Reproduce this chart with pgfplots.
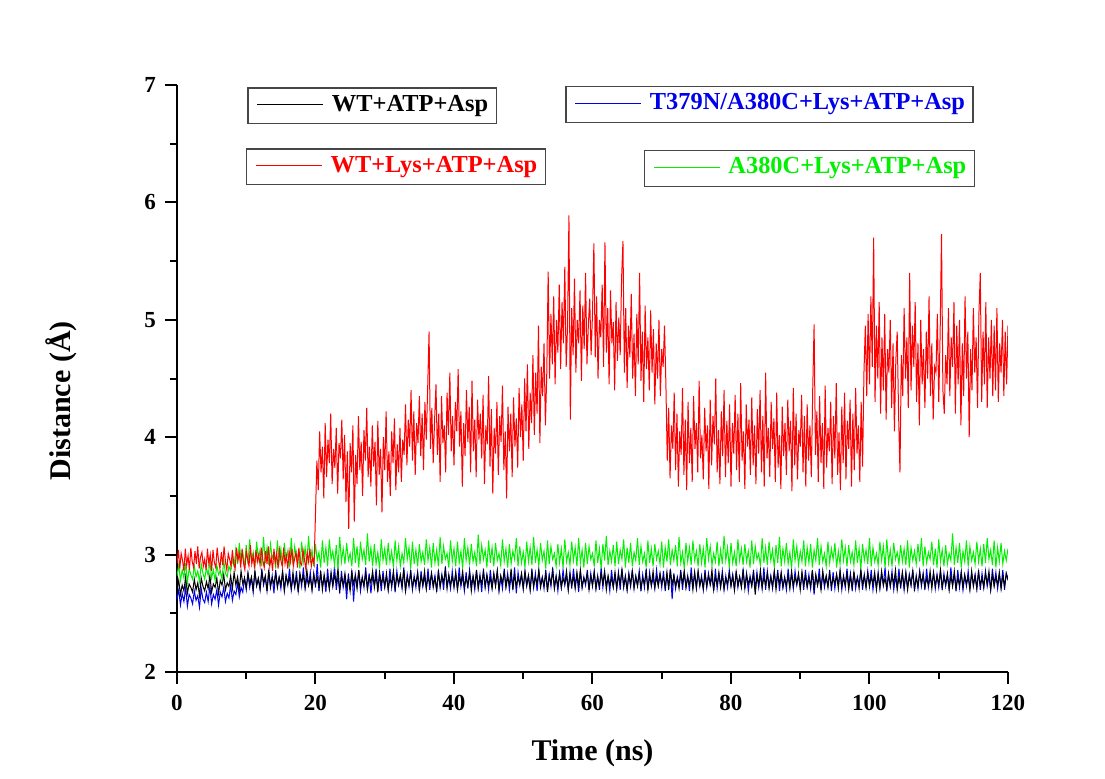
\documentclass[border=0pt]{standalone}
\usepackage{fontspec}
\setmainfont{Liberation Serif}
\usepackage{pgfplots}
\usepackage{pgfplotstable}
\pgfplotsset{compat=1.18}
\definecolor{cred}{RGB}{255,0,0}
\definecolor{cblue}{RGB}{0,0,235}
\definecolor{cgreen}{RGB}{0,240,0}
\definecolor{boxgray}{RGB}{70,70,70}

% WT+Lys+ATP+Asp, one value every 0.2 ns (0 ... 120 ns)
\pgfplotstableread[row sep=\\]{
y\\
2.93\\ 3.04\\ 2.88\\ 3.01\\ 2.95\\ 2.86\\ 3.05\\ 2.91\\ 2.99\\ 2.87\\ 3.06\\ 2.94\\ 2.89\\ 3.03\\ 2.92\\ 3.07\\ 2.88\\ 2.98\\ 3.02\\ 2.90\\
2.96\\ 2.87\\ 3.05\\ 2.92\\ 3.00\\ 2.86\\ 3.04\\ 2.93\\ 2.89\\ 3.06\\ 2.95\\ 2.88\\ 3.02\\ 2.91\\ 3.07\\ 2.94\\ 2.87\\ 3.01\\ 2.96\\ 2.90\\
3.04\\ 2.92\\ 2.88\\ 3.06\\ 2.95\\ 3.01\\ 2.89\\ 3.05\\ 2.93\\ 2.87\\ 3.03\\ 2.96\\ 2.90\\ 3.08\\ 2.92\\ 2.99\\ 2.88\\ 3.04\\ 2.94\\ 3.00\\
2.91\\ 3.06\\ 2.95\\ 2.89\\ 3.03\\ 2.92\\ 3.07\\ 2.90\\ 2.98\\ 2.86\\ 3.05\\ 2.93\\ 3.01\\ 2.88\\ 3.04\\ 2.95\\ 2.90\\ 3.06\\ 2.92\\ 2.99\\
2.88\\ 3.03\\ 2.94\\ 3.05\\ 2.90\\ 2.97\\ 3.02\\ 2.89\\ 3.06\\ 2.93\\ 2.91\\ 3.04\\ 2.96\\ 2.88\\ 3.02\\ 2.94\\ 3.05\\ 2.90\\ 2.97\\ 2.92\\
3.35\\ 3.80\\ 3.55\\ 4.05\\ 3.70\\ 3.92\\ 3.48\\ 4.12\\ 3.66\\ 3.98\\ 3.78\\ 4.20\\ 3.60\\ 3.90\\ 3.74\\ 4.08\\ 3.52\\ 3.95\\ 3.82\\ 4.15\\
3.64\\ 4.02\\ 3.45\\ 3.88\\ 3.22\\ 3.95\\ 3.70\\ 4.10\\ 3.28\\ 3.85\\ 3.60\\ 4.18\\ 3.72\\ 3.96\\ 3.50\\ 4.06\\ 3.80\\ 4.25\\ 3.66\\ 3.92\\
3.58\\ 4.10\\ 3.75\\ 3.96\\ 3.42\\ 4.14\\ 3.68\\ 3.90\\ 3.36\\ 4.00\\ 3.72\\ 4.22\\ 3.62\\ 3.88\\ 3.50\\ 4.05\\ 3.78\\ 4.16\\ 3.55\\ 3.94\\
3.70\\ 4.08\\ 3.62\\ 3.98\\ 3.85\\ 4.28\\ 3.76\\ 4.15\\ 3.92\\ 4.40\\ 3.80\\ 4.22\\ 3.68\\ 4.12\\ 3.95\\ 4.35\\ 3.84\\ 4.20\\ 3.72\\ 4.30\\
3.98\\ 4.42\\ 4.90\\ 3.90\\ 4.25\\ 3.78\\ 4.15\\ 4.45\\ 3.85\\ 4.20\\ 3.62\\ 4.35\\ 3.95\\ 4.10\\ 3.70\\ 4.38\\ 4.02\\ 4.55\\ 3.88\\ 4.18\\
3.76\\ 4.30\\ 4.05\\ 4.58\\ 3.92\\ 4.22\\ 3.58\\ 4.12\\ 3.84\\ 4.40\\ 3.96\\ 4.26\\ 3.70\\ 4.48\\ 3.88\\ 4.15\\ 3.66\\ 4.32\\ 3.98\\ 4.20\\
3.82\\ 4.36\\ 3.60\\ 4.10\\ 3.94\\ 4.52\\ 3.75\\ 4.24\\ 3.52\\ 4.08\\ 3.86\\ 4.30\\ 3.68\\ 4.18\\ 3.96\\ 4.44\\ 3.72\\ 4.05\\ 3.48\\ 4.26\\
3.88\\ 4.20\\ 3.66\\ 4.34\\ 3.92\\ 4.16\\ 3.74\\ 4.42\\ 4.00\\ 4.28\\ 3.80\\ 4.50\\ 4.05\\ 4.62\\ 3.90\\ 4.38\\ 4.12\\ 4.70\\ 4.02\\ 4.55\\
4.20\\ 4.95\\ 3.95\\ 4.60\\ 4.35\\ 4.80\\ 4.10\\ 4.55\\ 5.41\\ 4.50\\ 5.05\\ 4.62\\ 5.20\\ 4.45\\ 5.00\\ 4.72\\ 5.30\\ 4.58\\ 5.15\\ 4.80\\
5.45\\ 4.60\\ 4.95\\ 5.89\\ 4.15\\ 5.10\\ 4.70\\ 5.35\\ 4.55\\ 5.00\\ 4.80\\ 5.25\\ 4.48\\ 5.12\\ 4.75\\ 5.40\\ 4.62\\ 4.95\\ 5.18\\ 4.70\\
5.05\\ 5.65\\ 4.68\\ 5.20\\ 4.50\\ 5.00\\ 4.85\\ 5.30\\ 4.60\\ 5.66\\ 4.72\\ 5.10\\ 4.45\\ 5.25\\ 4.80\\ 4.98\\ 4.40\\ 5.15\\ 4.65\\ 5.02\\
4.70\\ 5.35\\ 5.67\\ 4.55\\ 5.10\\ 4.42\\ 4.95\\ 4.68\\ 5.22\\ 4.50\\ 4.88\\ 4.35\\ 5.05\\ 4.62\\ 5.40\\ 4.48\\ 4.90\\ 4.30\\ 5.12\\ 4.58\\
4.85\\ 4.40\\ 5.08\\ 4.55\\ 4.92\\ 4.28\\ 4.80\\ 4.50\\ 5.00\\ 4.35\\ 4.75\\ 4.60\\ 4.95\\ 4.45\\ 3.80\\ 4.25\\ 3.65\\ 4.10\\ 3.90\\ 4.38\\
3.72\\ 4.20\\ 3.58\\ 4.05\\ 3.85\\ 4.42\\ 3.68\\ 4.15\\ 3.55\\ 4.30\\ 3.78\\ 4.08\\ 3.62\\ 4.35\\ 3.90\\ 4.12\\ 3.70\\ 4.48\\ 3.82\\ 4.02\\
3.64\\ 4.25\\ 3.88\\ 4.10\\ 3.56\\ 4.32\\ 3.76\\ 4.18\\ 3.94\\ 4.50\\ 3.70\\ 4.06\\ 3.60\\ 4.22\\ 3.84\\ 4.40\\ 3.66\\ 4.14\\ 3.78\\ 4.28\\
3.58\\ 4.12\\ 3.86\\ 4.36\\ 3.72\\ 4.20\\ 3.62\\ 4.46\\ 3.80\\ 4.05\\ 3.56\\ 4.28\\ 3.92\\ 4.15\\ 3.68\\ 4.34\\ 3.76\\ 4.10\\ 3.60\\ 4.24\\
3.86\\ 4.40\\ 3.70\\ 4.18\\ 3.58\\ 4.55\\ 3.82\\ 4.08\\ 3.66\\ 4.30\\ 3.90\\ 4.16\\ 3.62\\ 4.38\\ 3.74\\ 4.02\\ 3.56\\ 4.26\\ 3.84\\ 4.12\\
3.68\\ 4.32\\ 3.88\\ 4.14\\ 3.54\\ 4.42\\ 3.76\\ 4.20\\ 3.64\\ 4.06\\ 3.92\\ 4.36\\ 3.70\\ 4.18\\ 3.58\\ 4.28\\ 3.80\\ 4.10\\ 3.66\\ 4.40\\
4.96\\ 3.85\\ 4.22\\ 3.62\\ 4.35\\ 3.78\\ 4.12\\ 3.56\\ 4.44\\ 3.74\\ 4.08\\ 3.88\\ 4.30\\ 3.60\\ 4.18\\ 3.82\\ 4.46\\ 3.68\\ 4.04\\ 3.55\\
4.26\\ 3.78\\ 4.38\\ 3.64\\ 4.14\\ 3.90\\ 4.32\\ 3.58\\ 4.20\\ 3.72\\ 4.42\\ 3.86\\ 4.10\\ 3.62\\ 4.30\\ 3.75\\ 4.55\\ 4.95\\ 4.35\\ 5.05\\
4.45\\ 5.20\\ 4.60\\ 5.70\\ 4.30\\ 4.95\\ 4.50\\ 5.15\\ 4.20\\ 4.85\\ 4.40\\ 5.05\\ 4.15\\ 4.75\\ 4.55\\ 5.00\\ 4.25\\ 4.80\\ 4.05\\ 4.65\\
4.90\\ 4.20\\ 3.70\\ 4.70\\ 4.35\\ 5.10\\ 4.50\\ 4.85\\ 4.25\\ 5.40\\ 4.40\\ 4.95\\ 4.60\\ 5.15\\ 4.30\\ 4.80\\ 4.10\\ 5.00\\ 4.45\\ 4.75\\
4.25\\ 4.90\\ 4.50\\ 5.20\\ 4.35\\ 4.80\\ 4.15\\ 4.60\\ 4.55\\ 5.05\\ 4.30\\ 4.88\\ 5.73\\ 4.40\\ 4.20\\ 4.70\\ 4.45\\ 5.10\\ 4.35\\ 4.85\\
4.60\\ 5.15\\ 4.20\\ 4.95\\ 4.45\\ 5.00\\ 4.10\\ 4.80\\ 4.35\\ 5.20\\ 4.50\\ 4.90\\ 4.00\\ 4.75\\ 4.40\\ 5.10\\ 4.55\\ 4.85\\ 4.25\\ 5.05\\
5.40\\ 4.30\\ 4.90\\ 4.45\\ 5.15\\ 4.25\\ 4.85\\ 4.50\\ 5.00\\ 4.35\\ 4.95\\ 4.40\\ 5.10\\ 4.30\\ 4.80\\ 4.55\\ 5.00\\ 4.35\\ 4.90\\ 4.45\\
4.95\\
}\tabred

% A380C+Lys+ATP+Asp, one value every 0.25 ns
\pgfplotstableread[row sep=\\]{
y\\
2.82\\ 2.91\\ 2.78\\ 2.87\\ 2.80\\ 2.93\\ 2.76\\ 2.88\\ 2.83\\ 2.79\\ 2.90\\ 2.81\\ 2.86\\ 2.77\\ 2.92\\ 2.84\\ 2.79\\ 2.89\\ 2.82\\ 2.94\\
2.80\\ 2.87\\ 2.78\\ 2.91\\ 2.83\\ 2.86\\ 2.79\\ 2.95\\ 2.84\\ 2.81\\ 2.90\\ 2.86\\ 2.96\\ 2.90\\ 3.05\\ 2.92\\ 3.10\\ 2.94\\ 3.02\\ 2.89\\
3.08\\ 2.92\\ 3.13\\ 2.95\\ 3.02\\ 2.89\\ 3.11\\ 2.96\\ 3.04\\ 2.90\\ 3.15\\ 2.93\\ 3.06\\ 2.91\\ 3.09\\ 2.97\\ 3.01\\ 2.88\\ 3.12\\ 2.94\\
3.05\\ 2.90\\ 3.10\\ 2.95\\ 3.03\\ 2.89\\ 3.14\\ 2.92\\ 3.07\\ 2.96\\ 3.01\\ 2.88\\ 3.11\\ 2.94\\ 3.06\\ 2.91\\ 3.16\\ 2.93\\ 3.04\\ 2.90\\
3.09\\ 2.95\\ 3.02\\ 2.89\\ 3.12\\ 2.93\\ 3.06\\ 2.90\\ 3.13\\ 2.96\\ 3.03\\ 2.91\\ 3.08\\ 2.88\\ 3.15\\ 2.94\\ 3.05\\ 2.92\\ 3.10\\ 2.95\\
3.01\\ 2.90\\ 3.14\\ 2.93\\ 3.07\\ 2.89\\ 3.11\\ 2.96\\ 3.04\\ 2.91\\ 3.18\\ 2.94\\ 3.06\\ 2.90\\ 3.09\\ 2.92\\ 3.02\\ 2.88\\ 3.13\\ 2.95\\
3.05\\ 2.91\\ 3.10\\ 2.94\\ 3.03\\ 2.89\\ 3.12\\ 2.95\\ 3.07\\ 2.90\\ 3.01\\ 2.93\\ 3.14\\ 2.96\\ 3.06\\ 2.88\\ 3.11\\ 2.92\\ 3.04\\ 2.90\\
3.09\\ 2.94\\ 3.02\\ 2.91\\ 3.13\\ 2.95\\ 3.06\\ 2.89\\ 3.10\\ 2.93\\ 3.04\\ 2.90\\ 3.15\\ 2.92\\ 3.07\\ 2.96\\ 3.01\\ 2.89\\ 3.12\\ 2.94\\
3.05\\ 2.90\\ 3.11\\ 2.93\\ 3.03\\ 2.88\\ 3.14\\ 2.95\\ 3.06\\ 2.91\\ 3.09\\ 2.94\\ 3.02\\ 2.90\\ 3.17\\ 2.92\\ 3.08\\ 2.96\\ 3.04\\ 2.89\\
3.12\\ 2.93\\ 3.06\\ 2.90\\ 3.10\\ 2.95\\ 3.01\\ 2.91\\ 3.13\\ 2.94\\ 3.05\\ 2.89\\ 3.09\\ 2.92\\ 3.03\\ 2.96\\ 3.14\\ 2.90\\ 3.07\\ 2.93\\
3.02\\ 2.89\\ 3.11\\ 2.94\\ 3.06\\ 2.91\\ 3.15\\ 2.93\\ 3.04\\ 2.90\\ 3.10\\ 2.95\\ 3.03\\ 2.88\\ 3.12\\ 2.92\\ 3.07\\ 2.96\\ 3.01\\ 2.90\\
3.09\\ 2.93\\ 3.05\\ 2.89\\ 3.13\\ 2.94\\ 3.02\\ 2.91\\ 3.11\\ 2.95\\ 3.06\\ 2.90\\ 3.14\\ 2.93\\ 3.04\\ 2.89\\ 3.10\\ 2.92\\ 3.07\\ 2.96\\
3.01\\ 2.90\\ 3.12\\ 2.93\\ 3.05\\ 2.88\\ 3.09\\ 2.95\\ 3.16\\ 2.91\\ 3.03\\ 2.94\\ 3.08\\ 2.90\\ 3.11\\ 2.92\\ 3.04\\ 2.96\\ 3.13\\ 2.89\\
3.06\\ 2.93\\ 3.10\\ 2.90\\ 3.02\\ 2.95\\ 3.14\\ 2.91\\ 3.07\\ 2.94\\ 3.01\\ 2.89\\ 3.12\\ 2.93\\ 3.05\\ 2.90\\ 3.09\\ 2.96\\ 3.03\\ 2.92\\
3.11\\ 2.89\\ 3.06\\ 2.94\\ 3.13\\ 2.91\\ 3.04\\ 2.95\\ 3.08\\ 2.90\\ 3.15\\ 2.93\\ 3.02\\ 2.88\\ 3.10\\ 2.94\\ 3.06\\ 2.91\\ 3.12\\ 2.95\\
3.03\\ 2.90\\ 3.09\\ 2.93\\ 3.05\\ 2.89\\ 3.14\\ 2.96\\ 3.07\\ 2.91\\ 3.01\\ 2.94\\ 3.11\\ 2.90\\ 3.04\\ 2.92\\ 3.16\\ 2.95\\ 3.06\\ 2.89\\
3.10\\ 2.93\\ 3.02\\ 2.90\\ 3.13\\ 2.95\\ 3.05\\ 2.91\\ 3.09\\ 2.94\\ 3.03\\ 2.89\\ 3.12\\ 2.92\\ 3.07\\ 2.96\\ 3.01\\ 2.90\\ 3.14\\ 2.93\\
3.06\\ 2.91\\ 3.11\\ 2.95\\ 3.04\\ 2.89\\ 3.08\\ 2.93\\ 3.15\\ 2.90\\ 3.05\\ 2.94\\ 3.10\\ 2.92\\ 3.02\\ 2.88\\ 3.13\\ 2.95\\ 3.07\\ 2.91\\
3.03\\ 2.94\\ 3.12\\ 2.90\\ 3.06\\ 2.93\\ 3.09\\ 2.89\\ 3.04\\ 2.95\\ 3.14\\ 2.91\\ 3.07\\ 2.94\\ 3.01\\ 2.90\\ 3.11\\ 2.93\\ 3.05\\ 2.96\\
3.10\\ 2.89\\ 3.03\\ 2.92\\ 3.13\\ 2.95\\ 3.06\\ 2.90\\ 3.08\\ 2.94\\ 3.02\\ 2.91\\ 3.12\\ 2.93\\ 3.05\\ 2.88\\ 3.09\\ 2.95\\ 3.04\\ 2.92\\
3.14\\ 2.90\\ 3.06\\ 2.94\\ 3.01\\ 2.91\\ 3.11\\ 2.95\\ 3.07\\ 2.89\\ 3.13\\ 2.93\\ 3.04\\ 2.90\\ 3.10\\ 2.96\\ 3.02\\ 2.92\\ 3.08\\ 2.94\\
3.05\\ 2.91\\ 3.12\\ 2.89\\ 3.06\\ 2.95\\ 3.03\\ 2.92\\ 3.09\\ 2.94\\ 3.14\\ 2.90\\ 3.07\\ 2.93\\ 3.02\\ 2.96\\ 3.11\\ 2.91\\ 3.05\\ 2.89\\
3.13\\ 2.94\\ 3.04\\ 2.90\\ 3.08\\ 2.92\\ 3.01\\ 2.95\\ 3.18\\ 2.91\\ 3.06\\ 2.93\\ 3.10\\ 2.89\\ 3.03\\ 2.94\\ 3.12\\ 2.90\\ 3.07\\ 2.95\\
3.02\\ 2.92\\ 3.11\\ 2.94\\ 3.05\\ 2.90\\ 3.09\\ 2.93\\ 3.14\\ 2.96\\ 3.04\\ 2.91\\ 3.12\\ 2.89\\ 3.06\\ 2.94\\ 3.10\\ 2.92\\ 3.03\\ 2.95\\
3.05\\
}\tabgreen

% WT+ATP+Asp, one value every 0.25 ns
\pgfplotstableread[row sep=\\]{
y\\
2.70\\ 2.78\\ 2.66\\ 2.74\\ 2.69\\ 2.81\\ 2.67\\ 2.75\\ 2.72\\ 2.68\\ 2.79\\ 2.70\\ 2.76\\ 2.65\\ 2.80\\ 2.73\\ 2.69\\ 2.77\\ 2.71\\ 2.82\\
2.68\\ 2.75\\ 2.72\\ 2.80\\ 2.67\\ 2.78\\ 2.74\\ 2.83\\ 2.70\\ 2.76\\ 2.73\\ 2.82\\ 2.71\\ 2.85\\ 2.74\\ 2.81\\ 2.70\\ 2.86\\ 2.75\\ 2.80\\
2.72\\ 2.84\\ 2.75\\ 2.81\\ 2.70\\ 2.86\\ 2.74\\ 2.80\\ 2.71\\ 2.85\\ 2.76\\ 2.82\\ 2.69\\ 2.87\\ 2.73\\ 2.80\\ 2.75\\ 2.84\\ 2.72\\ 2.81\\
2.74\\ 2.86\\ 2.70\\ 2.82\\ 2.75\\ 2.80\\ 2.71\\ 2.85\\ 2.73\\ 2.81\\ 2.69\\ 2.84\\ 2.76\\ 2.82\\ 2.72\\ 2.87\\ 2.74\\ 2.80\\ 2.70\\ 2.83\\
2.75\\ 2.81\\ 2.72\\ 2.86\\ 2.70\\ 2.83\\ 2.74\\ 2.80\\ 2.71\\ 2.85\\ 2.73\\ 2.82\\ 2.76\\ 2.88\\ 2.70\\ 2.81\\ 2.74\\ 2.84\\ 2.72\\ 2.80\\
2.69\\ 2.85\\ 2.75\\ 2.82\\ 2.71\\ 2.87\\ 2.73\\ 2.80\\ 2.74\\ 2.84\\ 2.70\\ 2.81\\ 2.76\\ 2.86\\ 2.72\\ 2.83\\ 2.68\\ 2.85\\ 2.75\\ 2.81\\
2.72\\ 2.84\\ 2.70\\ 2.80\\ 2.74\\ 2.86\\ 2.71\\ 2.82\\ 2.75\\ 2.83\\ 2.73\\ 2.87\\ 2.69\\ 2.81\\ 2.74\\ 2.85\\ 2.72\\ 2.80\\ 2.76\\ 2.84\\
2.70\\ 2.82\\ 2.74\\ 2.86\\ 2.71\\ 2.81\\ 2.75\\ 2.84\\ 2.72\\ 2.80\\ 2.70\\ 2.85\\ 2.73\\ 2.82\\ 2.76\\ 2.87\\ 2.71\\ 2.83\\ 2.74\\ 2.81\\
2.73\\ 2.85\\ 2.70\\ 2.81\\ 2.75\\ 2.86\\ 2.72\\ 2.80\\ 2.74\\ 2.84\\ 2.69\\ 2.82\\ 2.73\\ 2.87\\ 2.71\\ 2.81\\ 2.75\\ 2.85\\ 2.72\\ 2.83\\
2.74\\ 2.80\\ 2.71\\ 2.84\\ 2.73\\ 2.86\\ 2.70\\ 2.82\\ 2.76\\ 2.85\\ 2.72\\ 2.81\\ 2.74\\ 2.88\\ 2.70\\ 2.83\\ 2.73\\ 2.80\\ 2.75\\ 2.84\\
2.71\\ 2.86\\ 2.74\\ 2.82\\ 2.70\\ 2.85\\ 2.73\\ 2.81\\ 2.75\\ 2.87\\ 2.72\\ 2.80\\ 2.74\\ 2.84\\ 2.68\\ 2.82\\ 2.75\\ 2.86\\ 2.71\\ 2.81\\
2.73\\ 2.84\\ 2.72\\ 2.80\\ 2.75\\ 2.86\\ 2.70\\ 2.83\\ 2.74\\ 2.81\\ 2.71\\ 2.85\\ 2.73\\ 2.87\\ 2.72\\ 2.80\\ 2.76\\ 2.84\\ 2.70\\ 2.82\\
2.74\\ 2.85\\ 2.71\\ 2.81\\ 2.73\\ 2.84\\ 2.75\\ 2.86\\ 2.70\\ 2.82\\ 2.74\\ 2.80\\ 2.72\\ 2.85\\ 2.71\\ 2.83\\ 2.75\\ 2.87\\ 2.73\\ 2.81\\
2.70\\ 2.83\\ 2.74\\ 2.86\\ 2.72\\ 2.81\\ 2.73\\ 2.84\\ 2.71\\ 2.80\\ 2.75\\ 2.85\\ 2.70\\ 2.82\\ 2.74\\ 2.86\\ 2.72\\ 2.81\\ 2.73\\ 2.84\\
2.75\\ 2.81\\ 2.72\\ 2.85\\ 2.70\\ 2.87\\ 2.74\\ 2.82\\ 2.73\\ 2.80\\ 2.71\\ 2.84\\ 2.75\\ 2.86\\ 2.72\\ 2.81\\ 2.74\\ 2.83\\ 2.70\\ 2.85\\
2.72\\ 2.86\\ 2.74\\ 2.80\\ 2.71\\ 2.84\\ 2.73\\ 2.82\\ 2.75\\ 2.87\\ 2.70\\ 2.81\\ 2.74\\ 2.85\\ 2.72\\ 2.83\\ 2.71\\ 2.80\\ 2.75\\ 2.84\\
2.73\\ 2.82\\ 2.70\\ 2.85\\ 2.74\\ 2.81\\ 2.72\\ 2.86\\ 2.71\\ 2.83\\ 2.75\\ 2.80\\ 2.73\\ 2.84\\ 2.66\\ 2.82\\ 2.74\\ 2.87\\ 2.72\\ 2.81\\
2.74\\ 2.84\\ 2.71\\ 2.81\\ 2.73\\ 2.86\\ 2.70\\ 2.83\\ 2.75\\ 2.85\\ 2.72\\ 2.80\\ 2.74\\ 2.82\\ 2.71\\ 2.86\\ 2.73\\ 2.81\\ 2.75\\ 2.84\\
2.70\\ 2.85\\ 2.74\\ 2.82\\ 2.72\\ 2.80\\ 2.73\\ 2.87\\ 2.71\\ 2.83\\ 2.74\\ 2.81\\ 2.70\\ 2.86\\ 2.75\\ 2.82\\ 2.72\\ 2.84\\ 2.73\\ 2.80\\
2.75\\ 2.83\\ 2.71\\ 2.86\\ 2.73\\ 2.81\\ 2.74\\ 2.84\\ 2.70\\ 2.82\\ 2.72\\ 2.85\\ 2.75\\ 2.80\\ 2.71\\ 2.87\\ 2.74\\ 2.82\\ 2.72\\ 2.84\\
2.73\\ 2.81\\ 2.75\\ 2.85\\ 2.70\\ 2.83\\ 2.72\\ 2.86\\ 2.74\\ 2.80\\ 2.71\\ 2.84\\ 2.73\\ 2.82\\ 2.75\\ 2.87\\ 2.70\\ 2.81\\ 2.74\\ 2.85\\
2.72\\ 2.84\\ 2.70\\ 2.82\\ 2.74\\ 2.86\\ 2.71\\ 2.81\\ 2.73\\ 2.85\\ 2.75\\ 2.83\\ 2.72\\ 2.80\\ 2.74\\ 2.86\\ 2.71\\ 2.84\\ 2.73\\ 2.82\\
2.74\\ 2.87\\ 2.72\\ 2.81\\ 2.75\\ 2.84\\ 2.70\\ 2.82\\ 2.73\\ 2.86\\ 2.71\\ 2.80\\ 2.74\\ 2.85\\ 2.72\\ 2.83\\ 2.75\\ 2.81\\ 2.70\\ 2.86\\
2.73\\ 2.82\\ 2.71\\ 2.85\\ 2.74\\ 2.80\\ 2.72\\ 2.84\\ 2.75\\ 2.86\\ 2.70\\ 2.83\\ 2.73\\ 2.81\\ 2.74\\ 2.85\\ 2.71\\ 2.82\\ 2.73\\ 2.84\\
2.78\\
}\tabblack

% T379N/A380C+Lys+ATP+Asp, one value every 0.25 ns
\pgfplotstableread[row sep=\\]{
y\\
2.62\\ 2.70\\ 2.57\\ 2.67\\ 2.60\\ 2.72\\ 2.56\\ 2.66\\ 2.63\\ 2.58\\ 2.69\\ 2.61\\ 2.65\\ 2.55\\ 2.71\\ 2.62\\ 2.59\\ 2.68\\ 2.60\\ 2.73\\
2.58\\ 2.66\\ 2.62\\ 2.70\\ 2.57\\ 2.68\\ 2.64\\ 2.72\\ 2.60\\ 2.67\\ 2.63\\ 2.74\\ 2.61\\ 2.69\\ 2.66\\ 2.76\\ 2.64\\ 2.72\\ 2.68\\ 2.80\\
2.70\\ 2.84\\ 2.72\\ 2.80\\ 2.68\\ 2.86\\ 2.73\\ 2.79\\ 2.70\\ 2.88\\ 2.74\\ 2.81\\ 2.69\\ 2.85\\ 2.72\\ 2.82\\ 2.67\\ 2.87\\ 2.73\\ 2.80\\
2.71\\ 2.85\\ 2.69\\ 2.82\\ 2.74\\ 2.88\\ 2.70\\ 2.81\\ 2.72\\ 2.86\\ 2.68\\ 2.83\\ 2.73\\ 2.89\\ 2.71\\ 2.80\\ 2.74\\ 2.85\\ 2.70\\ 2.84\\
2.72\\ 2.92\\ 2.69\\ 2.84\\ 2.73\\ 2.81\\ 2.68\\ 2.88\\ 2.71\\ 2.83\\ 2.74\\ 2.90\\ 2.70\\ 2.82\\ 2.67\\ 2.86\\ 2.72\\ 2.81\\ 2.62\\ 2.84\\
2.70\\ 2.87\\ 2.60\\ 2.83\\ 2.73\\ 2.86\\ 2.69\\ 2.81\\ 2.72\\ 2.89\\ 2.70\\ 2.84\\ 2.67\\ 2.82\\ 2.74\\ 2.88\\ 2.71\\ 2.83\\ 2.69\\ 2.86\\
2.73\\ 2.82\\ 2.70\\ 2.88\\ 2.72\\ 2.84\\ 2.68\\ 2.86\\ 2.74\\ 2.81\\ 2.71\\ 2.89\\ 2.69\\ 2.83\\ 2.73\\ 2.87\\ 2.70\\ 2.82\\ 2.72\\ 2.85\\
2.69\\ 2.86\\ 2.73\\ 2.81\\ 2.71\\ 2.88\\ 2.70\\ 2.84\\ 2.74\\ 2.82\\ 2.68\\ 2.87\\ 2.72\\ 2.83\\ 2.70\\ 2.90\\ 2.73\\ 2.81\\ 2.71\\ 2.86\\
2.72\\ 2.84\\ 2.70\\ 2.89\\ 2.73\\ 2.82\\ 2.69\\ 2.85\\ 2.71\\ 2.87\\ 2.74\\ 2.81\\ 2.70\\ 2.86\\ 2.72\\ 2.83\\ 2.68\\ 2.88\\ 2.73\\ 2.82\\
2.70\\ 2.87\\ 2.72\\ 2.83\\ 2.74\\ 2.86\\ 2.69\\ 2.81\\ 2.71\\ 2.88\\ 2.73\\ 2.84\\ 2.70\\ 2.82\\ 2.72\\ 2.89\\ 2.67\\ 2.85\\ 2.74\\ 2.83\\
2.71\\ 2.85\\ 2.73\\ 2.82\\ 2.70\\ 2.88\\ 2.72\\ 2.84\\ 2.69\\ 2.86\\ 2.74\\ 2.81\\ 2.71\\ 2.87\\ 2.70\\ 2.83\\ 2.73\\ 2.89\\ 2.72\\ 2.82\\
2.69\\ 2.84\\ 2.72\\ 2.87\\ 2.74\\ 2.82\\ 2.70\\ 2.85\\ 2.71\\ 2.88\\ 2.73\\ 2.83\\ 2.68\\ 2.86\\ 2.72\\ 2.81\\ 2.74\\ 2.87\\ 2.70\\ 2.84\\
2.73\\ 2.86\\ 2.71\\ 2.82\\ 2.70\\ 2.89\\ 2.72\\ 2.84\\ 2.74\\ 2.81\\ 2.69\\ 2.87\\ 2.73\\ 2.83\\ 2.71\\ 2.85\\ 2.70\\ 2.88\\ 2.72\\ 2.82\\
2.70\\ 2.84\\ 2.73\\ 2.87\\ 2.71\\ 2.82\\ 2.74\\ 2.86\\ 2.69\\ 2.83\\ 2.72\\ 2.88\\ 2.70\\ 2.85\\ 2.73\\ 2.81\\ 2.71\\ 2.87\\ 2.74\\ 2.83\\
2.72\\ 2.86\\ 2.69\\ 2.83\\ 2.73\\ 2.88\\ 2.62\\ 2.84\\ 2.71\\ 2.81\\ 2.74\\ 2.87\\ 2.70\\ 2.85\\ 2.72\\ 2.82\\ 2.69\\ 2.89\\ 2.73\\ 2.84\\
2.71\\ 2.85\\ 2.73\\ 2.82\\ 2.70\\ 2.87\\ 2.72\\ 2.84\\ 2.74\\ 2.81\\ 2.69\\ 2.88\\ 2.71\\ 2.83\\ 2.73\\ 2.86\\ 2.70\\ 2.82\\ 2.72\\ 2.87\\
2.74\\ 2.83\\ 2.70\\ 2.86\\ 2.72\\ 2.81\\ 2.73\\ 2.88\\ 2.71\\ 2.84\\ 2.69\\ 2.82\\ 2.74\\ 2.87\\ 2.70\\ 2.85\\ 2.72\\ 2.83\\ 2.71\\ 2.89\\
2.70\\ 2.86\\ 2.73\\ 2.82\\ 2.71\\ 2.85\\ 2.74\\ 2.87\\ 2.69\\ 2.83\\ 2.72\\ 2.81\\ 2.70\\ 2.88\\ 2.73\\ 2.84\\ 2.71\\ 2.86\\ 2.74\\ 2.82\\
2.72\\ 2.84\\ 2.70\\ 2.87\\ 2.73\\ 2.83\\ 2.71\\ 2.86\\ 2.66\\ 2.82\\ 2.74\\ 2.88\\ 2.70\\ 2.84\\ 2.72\\ 2.81\\ 2.73\\ 2.87\\ 2.69\\ 2.85\\
2.71\\ 2.83\\ 2.74\\ 2.86\\ 2.70\\ 2.82\\ 2.72\\ 2.88\\ 2.73\\ 2.84\\ 2.69\\ 2.85\\ 2.71\\ 2.81\\ 2.74\\ 2.87\\ 2.70\\ 2.83\\ 2.72\\ 2.86\\
2.73\\ 2.87\\ 2.70\\ 2.82\\ 2.72\\ 2.85\\ 2.71\\ 2.84\\ 2.74\\ 2.89\\ 2.69\\ 2.83\\ 2.73\\ 2.86\\ 2.70\\ 2.81\\ 2.72\\ 2.88\\ 2.71\\ 2.84\\
2.70\\ 2.85\\ 2.72\\ 2.83\\ 2.74\\ 2.87\\ 2.69\\ 2.82\\ 2.71\\ 2.86\\ 2.73\\ 2.84\\ 2.70\\ 2.88\\ 2.72\\ 2.81\\ 2.74\\ 2.85\\ 2.71\\ 2.83\\
2.72\\ 2.86\\ 2.70\\ 2.84\\ 2.73\\ 2.82\\ 2.71\\ 2.89\\ 2.74\\ 2.83\\ 2.69\\ 2.87\\ 2.72\\ 2.85\\ 2.70\\ 2.82\\ 2.73\\ 2.86\\ 2.71\\ 2.84\\
2.74\\ 2.83\\ 2.71\\ 2.87\\ 2.70\\ 2.84\\ 2.72\\ 2.86\\ 2.73\\ 2.82\\ 2.70\\ 2.88\\ 2.74\\ 2.85\\ 2.71\\ 2.83\\ 2.72\\ 2.87\\ 2.70\\ 2.84\\
2.80\\
}\tabblue

\newcommand{\legfont}{\bfseries\fontsize{12.2}{14}\selectfont}
\tikzset{legbox/.style={draw=boxgray, line width=0.6pt, inner xsep=4pt, inner ysep=3.5pt, fill=white}}

\begin{document}
\begin{tikzpicture}
\begin{axis}[
  scale only axis,
  width=415.5pt, height=293.5pt,
  xmin=0, xmax=120, ymin=2, ymax=7,
  axis lines=left,
  axis line style={-, line width=1pt},
  xtick={0,20,...,120}, minor xtick={10,30,...,110},
  ytick={2,3,...,7}, minor ytick={2.5,3.5,...,6.5},
  tick align=outside,
  major tick length=6pt, minor tick length=3.5pt,
  every tick/.style={black, line width=1pt},
  /pgf/number format/assume math mode=true,
  ticklabel style={font=\bfseries\fontsize{11.5}{13}\selectfont},
  xticklabel style={yshift=-2pt},
  yticklabel style={xshift=-1pt},
  xlabel={Time (ns)},
  ylabel={Distance (Å)},
  label style={font=\bfseries\fontsize{15}{17}\selectfont},
  xlabel style={at={(axis description cs:0.5,-0.138)}, anchor=center},
  ylabel style={at={(axis description cs:-0.1396,0.462)}, anchor=center, rotate=0},
  every axis plot/.append style={line width=0.5pt},
]
\addplot[cblue] table[x expr=\coordindex*0.25, y=y] {\tabblue};
\addplot[black] table[x expr=\coordindex*0.25, y=y] {\tabblack};
\addplot[cgreen] table[x expr=\coordindex*0.25, y=y] {\tabgreen};
\addplot[cred] table[x expr=\coordindex*0.2, y=y] {\tabred};

% legend boxes
\node (lb1) [legbox] at (rel axis cs:0.2347,0.965) {\legfont\hspace{38pt}WT+ATP+Asp};
\node (lb2) [legbox] at (rel axis cs:0.2635,0.861) {\legfont\hspace{38pt}\textcolor{cred}{WT+Lys+ATP+Asp}};
\node (lb3) [legbox] at (rel axis cs:0.713,0.967) {\legfont\hspace{38pt}\textcolor{cblue}{T379N/A380C+Lys+ATP+Asp}};
\node (lb4) [legbox] at (rel axis cs:0.761,0.858) {\legfont\hspace{38pt}\textcolor{cgreen}{A380C+Lys+ATP+Asp}};
\fill[black] ([xshift=5pt,yshift=0.1pt]lb1.west) rectangle ([xshift=38pt,yshift=0.9pt]lb1.west);
\fill[cred] ([xshift=5pt,yshift=0.1pt]lb2.west) rectangle ([xshift=38pt,yshift=0.9pt]lb2.west);
\fill[cblue] ([xshift=5pt,yshift=0.1pt]lb3.west) rectangle ([xshift=38pt,yshift=0.9pt]lb3.west);
\fill[cgreen] ([xshift=5pt,yshift=0.1pt]lb4.west) rectangle ([xshift=38pt,yshift=0.9pt]lb4.west);

\coordinate (ll) at (rel axis cs:0,0);
\end{axis}
\pgfresetboundingbox
\path (ll) ++(-88.5pt,-53pt) rectangle ++(552.5pt,389pt);
\end{tikzpicture}
\end{document}
